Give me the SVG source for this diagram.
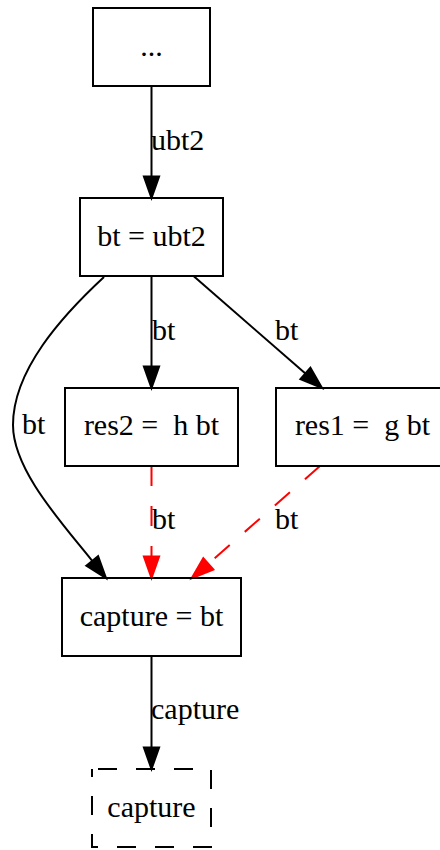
<svg xmlns="http://www.w3.org/2000/svg" width="440" height="850" viewBox="0 0 440 850">
  <style>
    text { font-family: "Liberation Serif", "Times New Roman", serif; font-size: 30px; fill: #000; white-space: pre; }
    .node rect { fill: none; stroke: #000; stroke-width: 2; }
    .node text { text-anchor: middle; }
    .node.ghost rect { stroke-dasharray: 19 19; stroke-dashoffset: -6; }
    .edge path { fill: none; stroke: #000; stroke-width: 2; }
    .edge polygon { fill: #000; stroke: #000; stroke-width: 2; }
    .edge.flow path { stroke: #ff0000; stroke-dasharray: 20 20; }
    .edge.flow polygon { fill: #ff0000; stroke: #ff0000; }
  </style>
  <rect width="440" height="850" fill="#fff"/>

  <g id="edges">
    <g class="edge" id="e_dots_bt">
      <path d="M151.5,86 L151.5,176.5"/>
      <polygon points="143.9,176.5 159.1,176.5 151.5,198"/>
      <text x="151" y="150">ubt2</text>
    </g>
    <g class="edge" id="e_bt_res2">
      <path d="M151.5,276 L151.5,366.5"/>
      <polygon points="143.9,366.5 159.1,366.5 151.5,388"/>
      <text x="152" y="340">bt</text>
    </g>
    <g class="edge" id="e_bt_res1">
      <path d="M193.5,276 L305.4,373.5"/>
      <polygon points="300.4,379.2 310.4,367.8 322,388"/>
      <text x="275" y="340">bt</text>
    </g>
    <g class="edge" id="e_bt_capture">
      <path d="M104,277 C62,316 13,370 13,425 C13,470 62,523 92.2,560.9"/>
      <polygon points="86.3,565.7 98.1,556.1 106,578"/>
      <text x="22" y="434">bt</text>
    </g>
    <g class="edge flow" id="e_res2_capture">
      <path d="M151.5,466 L151.5,556.5"/>
      <polygon points="143.9,556.5 159.1,556.5 151.5,578"/>
      <text x="152" y="529">bt</text>
    </g>
    <g class="edge flow" id="e_res1_capture">
      <path d="M320,466 L208.3,563.8"/>
      <polygon points="213.3,569.5 203.3,558.1 191.7,578.3"/>
      <text x="275" y="529">bt</text>
    </g>
    <g class="edge" id="e_capture_out">
      <path d="M151.5,656 L151.5,747.5"/>
      <polygon points="143.9,747.5 159.1,747.5 151.5,769"/>
      <text x="151" y="719">capture</text>
    </g>
  </g>

  <g class="node" id="n_dots">
    <rect x="93" y="8" width="117" height="78"/>
    <text x="151.5" y="55.5">...</text>
  </g>
  <g class="node" id="n_bt">
    <rect x="80" y="198" width="143" height="78"/>
    <text x="151.5" y="245.5">bt = ubt2</text>
  </g>
  <g class="node" id="n_res2">
    <rect x="65" y="388" width="173" height="78"/>
    <text x="151.5" y="435">res2 =  h bt</text>
  </g>
  <g class="node" id="n_res1">
    <rect x="276" y="388" width="172" height="78"/>
    <text x="362.5" y="435">res1 =  g bt</text>
  </g>
  <g class="node" id="n_capture_bt">
    <rect x="62" y="578" width="179" height="78"/>
    <text x="151.5" y="625.5">capture = bt</text>
  </g>
  <g class="node ghost" id="n_capture">
    <rect x="92" y="769" width="119" height="78"/>
    <text x="151.5" y="816.5">capture</text>
  </g>
</svg>
